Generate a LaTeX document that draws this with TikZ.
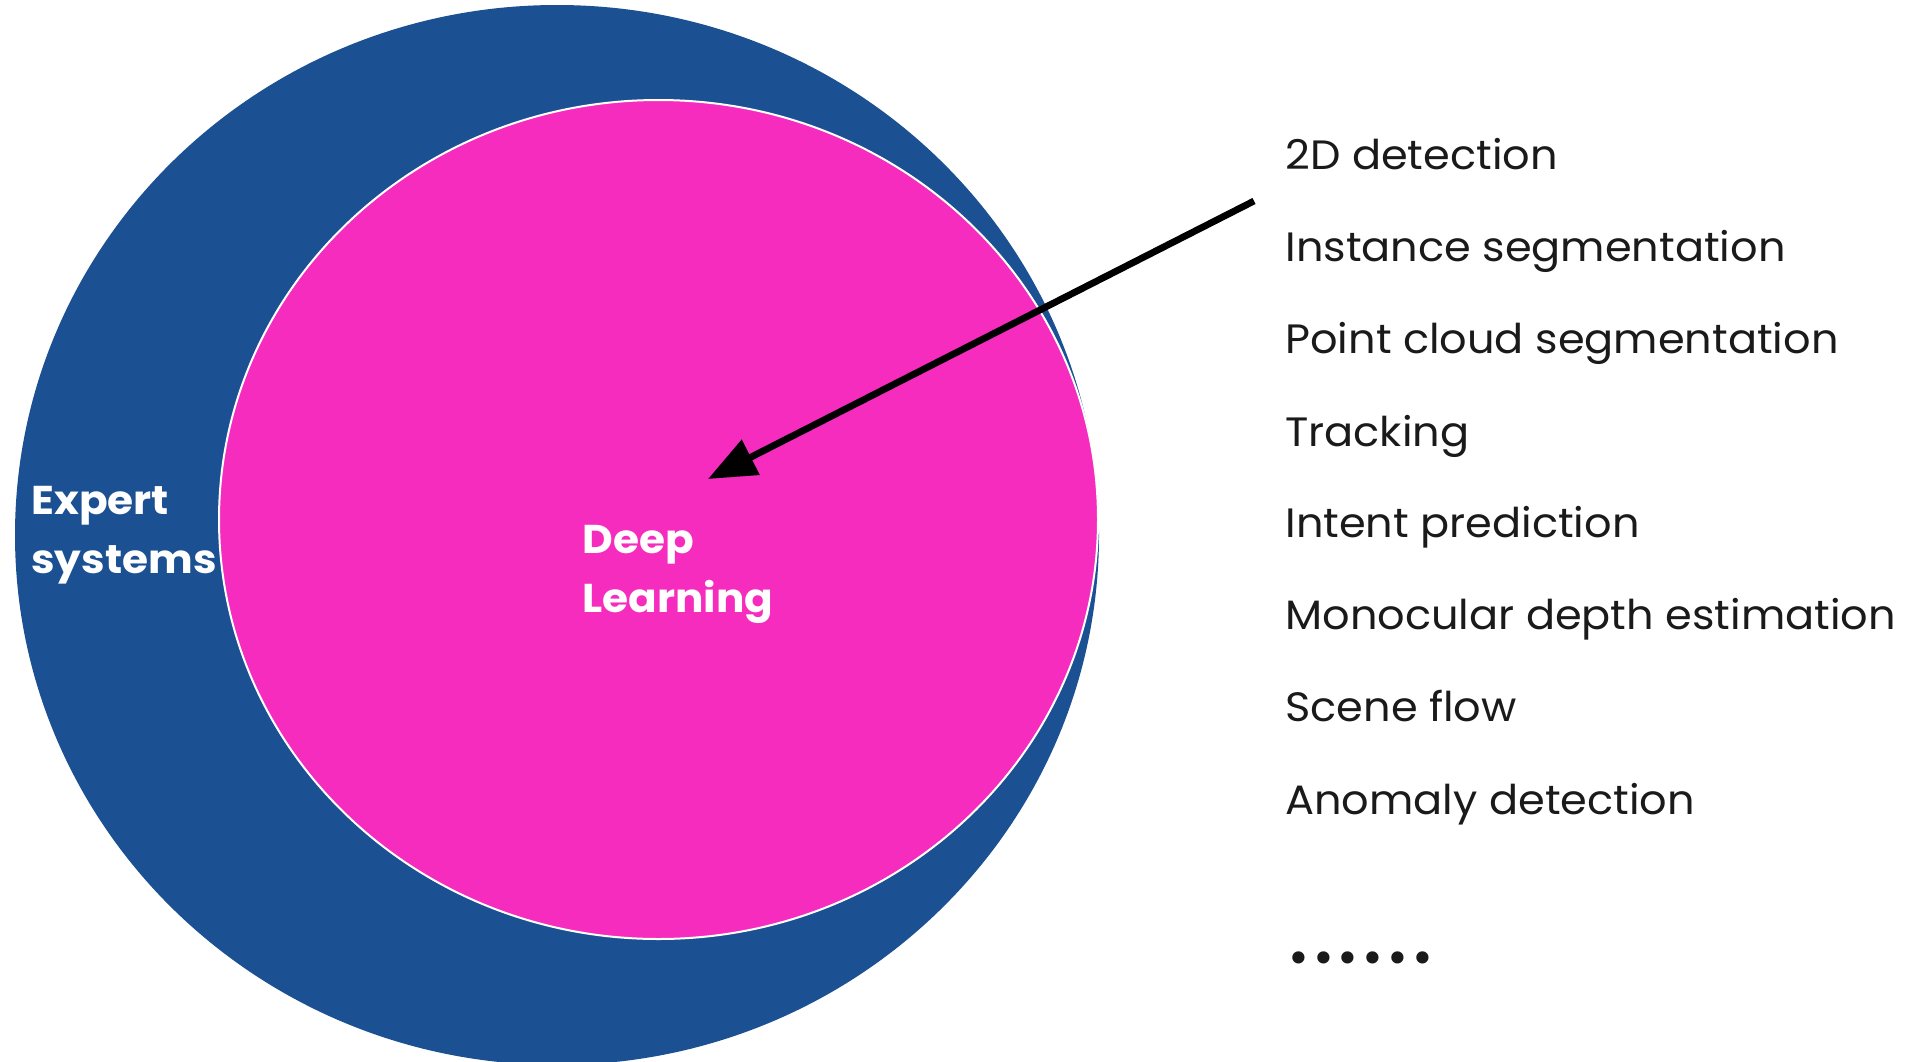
\documentclass[tikz,border=0pt]{standalone}
\usepackage{fontspec}
\setmainfont{Poppins}[FakeStretch=1.05]
\newfontfamily\dotfont{DejaVu Sans}
\usetikzlibrary{shapes.geometric,arrows.meta}

\definecolor{expertblue}{HTML}{1B5193}
\definecolor{dlpink}{HTML}{F52CBE}
\definecolor{listink}{HTML}{1A1A1A}

\tikzset{
  field/.style={ellipse, inner sep=0pt},
  bigword/.style={text=white, font=\fontsize{20.1}{29.5}\selectfont\bfseries,
    align=left, inner sep=0pt, anchor=base west},
  task/.style={text=listink, font=\fontsize{20.5}{24}\selectfont,
    inner sep=0pt, anchor=base west},
  pointer/.style={line width=3.4pt, -{Triangle[length=24pt,width=19pt]}}
}

\begin{document}
\begin{tikzpicture}[x=0.5pt, y=-0.5pt]
  \useasboundingbox (0,0) rectangle (1928,1061);

  % nested fields (sizes in pt: one unit of the grid is 0.5pt)
  \node[field, fill=expertblue, minimum width=542pt, minimum height=530pt]
    (expert) at (557,535) {};
  \node[field, fill=dlpink, draw=white, line width=1pt,
    minimum width=439.5pt, minimum height=419.5pt]
    (deep) at (658.5,519.5) {};

  % labels of the two fields (anchored on the baseline of the last line)
  \node[bigword] (expertlbl) at (31,573) {Expert\\systems};
  \node[bigword] (deeplbl) at (582,612) {Deep\\Learning};

  % list of tasks
  \node[task] (t1) at (1285,169) {2D detection};
  \node[task] (t2) at (1285,261) {Instance segmentation};
  \node[task] (t3) at (1285,353) {Point cloud segmentation};
  \node[task] (t4) at (1285,446) {Tracking};
  \node[task] (t5) at (1285,537) {Intent prediction};
  \node[task] (t6) at (1285,629) {Monocular depth estimation};
  \node[task] (t7) at (1285,721) {Scene flow};
  \node[task] (t8) at (1285,814) {Anomaly detection};
  \node[task, font=\dotfont\fontsize{21}{24}\selectfont] (more) at (1286,973) {••••••};

  % arrow from the task list into the deep learning field
  \coordinate (src) at (1254,201);
  \coordinate (tip) at (708,479);
  \draw[pointer] (src) -- (tip);
\end{tikzpicture}
\end{document}
